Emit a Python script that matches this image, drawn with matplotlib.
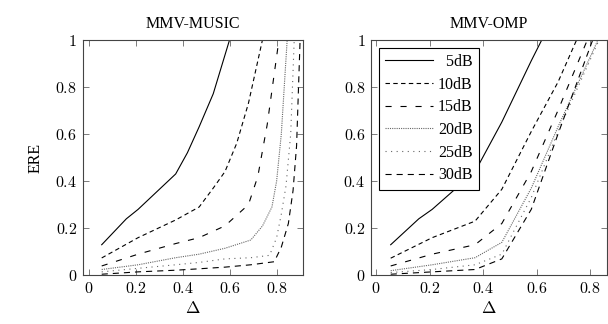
import matplotlib
matplotlib.use('Agg')
import matplotlib.pyplot as plt
from matplotlib.ticker import FuncFormatter

plt.rcParams['font.family'] = ['Liberation Serif', 'DejaVu Serif']
plt.rcParams['mathtext.fontset'] = 'cm'

labels = ['  5dB', '10dB', '15dB', '20dB', '25dB', '30dB']

# MMV-MUSIC (left)
music_x = [
    [0.055, 0.16, 0.21, 0.37, 0.42, 0.47, 0.53, 0.60],
    [0.055, 0.21, 0.37, 0.47, 0.53, 0.58, 0.63, 0.68, 0.74],
    [0.055, 0.21, 0.37, 0.47, 0.58, 0.68, 0.72, 0.76, 0.81],
    [0.055, 0.21, 0.37, 0.47, 0.58, 0.69, 0.74, 0.78, 0.80, 0.82, 0.845],
    [0.055, 0.21, 0.37, 0.47, 0.58, 0.69, 0.77, 0.80, 0.82, 0.84, 0.86, 0.875],
    [0.055, 0.21, 0.37, 0.47, 0.58, 0.69, 0.79, 0.82, 0.85, 0.87, 0.885, 0.90],
]
music_y = [
    [0.13, 0.24, 0.28, 0.43, 0.52, 0.63, 0.77, 1.0],
    [0.074, 0.16, 0.235, 0.29, 0.37, 0.44, 0.56, 0.73, 1.0],
    [0.04, 0.09, 0.135, 0.16, 0.21, 0.30, 0.42, 0.64, 1.0],
    [0.025, 0.045, 0.075, 0.09, 0.115, 0.15, 0.21, 0.29, 0.40, 0.60, 1.0],
    [0.015, 0.03, 0.045, 0.055, 0.07, 0.075, 0.085, 0.16, 0.26, 0.38, 0.60, 1.0],
    [0.005, 0.015, 0.022, 0.028, 0.035, 0.045, 0.058, 0.12, 0.22, 0.36, 0.55, 1.0],
]

# MMV-OMP (right)
omp_x = [
    [0.055, 0.16, 0.21, 0.37, 0.47, 0.58, 0.62],
    [0.055, 0.21, 0.37, 0.47, 0.58, 0.68, 0.75],
    [0.055, 0.21, 0.37, 0.47, 0.58, 0.68, 0.79],
    [0.055, 0.21, 0.37, 0.47, 0.58, 0.68, 0.83],
    [0.055, 0.21, 0.37, 0.47, 0.58, 0.68, 0.83],
    [0.055, 0.21, 0.37, 0.47, 0.58, 0.68, 0.81],
]
omp_y = [
    [0.13, 0.24, 0.28, 0.44, 0.65, 0.91, 1.0],
    [0.073, 0.16, 0.23, 0.365, 0.61, 0.82, 1.0],
    [0.04, 0.09, 0.13, 0.22, 0.44, 0.70, 1.0],
    [0.02, 0.045, 0.075, 0.14, 0.37, 0.63, 1.0],
    [0.012, 0.025, 0.045, 0.09, 0.33, 0.61, 0.99],
    [0.005, 0.015, 0.025, 0.07, 0.28, 0.60, 1.0],
]

styles = [
    dict(color='black', ls='-'),
    dict(color='black', ls=(0, (4, 3))),
    dict(color='black', ls=(0, (5.5, 8))),
    dict(color='#666666', ls=(0, (1, 1))),
    dict(color='#666666', ls=(0, (1, 4))),
    dict(color='black', ls=(0, (5.5, 4.5))),
]

fig = plt.figure(figsize=(6.08, 3.24), dpi=100)
ax1 = fig.add_axes([0.136, 0.150, 0.363, 0.728])
ax2 = fig.add_axes([0.610, 0.150, 0.388, 0.728])

fmt = FuncFormatter(lambda v, p: '$%g$' % round(v, 2))

for ax, xs, ys, title, xlim in [(ax1, music_x, music_y, 'MMV-MUSIC', (-0.026, 0.914)),
                                (ax2, omp_x, omp_y, 'MMV-OMP', (-0.019, 0.862))]:
    for x, y, lab, st in zip(xs, ys, labels, styles):
        ax.plot(x, y, lw=0.8, label=lab, **st)
    ax.set_xlim(*xlim)
    ax.set_ylim(0, 1)
    ax.set_xticks([0, 0.2, 0.4, 0.6, 0.8])
    ax.set_yticks([0, 0.2, 0.4, 0.6, 0.8, 1])
    ax.xaxis.set_major_formatter(fmt)
    ax.yaxis.set_major_formatter(fmt)
    ax.tick_params(direction='in', top=True, right=True, length=4, width=0.6,
                   color='#666666', labelsize=11.5, pad=4)
    for s in ax.spines.values():
        s.set_linewidth(0.8)
        s.set_color('#444444')
    ax.set_title(title, fontsize=11.5, pad=8)
    ax.set_xlabel(r'$\Delta$', fontsize=12.5, labelpad=3)

ax1.set_ylabel('ERE', fontsize=11.5, labelpad=8)

leg = ax2.legend(loc='upper left', fontsize=11.5, handlelength=3.0, handletextpad=0.3,
                 labelspacing=0.42, borderpad=0.4, borderaxespad=0.5,
                 fancybox=False, edgecolor='black', framealpha=1)
leg.get_frame().set_linewidth(0.8)

fig.savefig('out.png', dpi=100)
